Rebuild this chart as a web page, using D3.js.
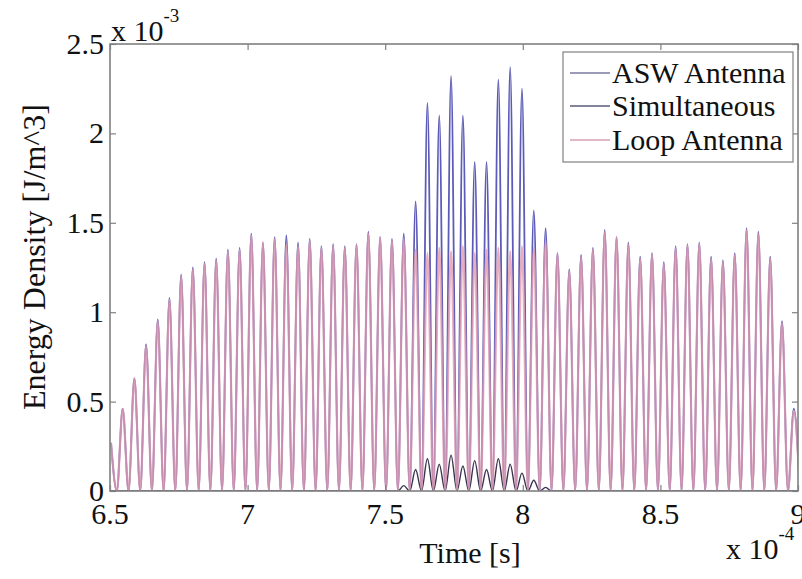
<!DOCTYPE html>
<html>
<head>
<meta charset="utf-8">
<script src="https://cdn.jsdelivr.net/npm/d3@7"></script>
<style>
  html, body { margin: 0; padding: 0; background: #fff; }
  svg { display: block; }
</style>
</head>
<body>
<svg id="chart" width="802" height="579" font-family="'Liberation Serif', 'DejaVu Serif', serif"></svg>
<script>
// ---- Data (time in units of 1e-4 s, energy density in units of 1e-3 J/m^3) ----
const peakTimes = [
  6.5036, 6.5461, 6.5886, 6.6311, 6.6735, 6.7160, 6.7585, 6.8010, 6.8435, 6.8859,
  6.9284, 6.9709, 7.0134, 7.0558, 7.0983, 7.1408, 7.1833, 7.2258, 7.2682, 7.3107,
  7.3532, 7.3957, 7.4387, 7.4816, 7.5246, 7.5675, 7.6105, 7.6534, 7.6964, 7.7393,
  7.7823, 7.8252, 7.8682, 7.9111, 7.9541, 7.9970, 8.0400, 8.0829, 8.1259, 8.1688,
  8.2118, 8.2547, 8.2977, 8.3406, 8.3836, 8.4265, 8.4695, 8.5124, 8.5554, 8.5983,
  8.6413, 8.6842, 8.7272, 8.7701, 8.8131, 8.8560, 8.8990, 8.9419, 8.9849
];
const loopAntenna = [
  0.27, 0.46, 0.63, 0.81, 0.95, 1.07, 1.20, 1.24, 1.27, 1.29,
  1.34, 1.35, 1.43, 1.39, 1.41, 1.38, 1.37, 1.40, 1.36, 1.37,
  1.36, 1.38, 1.44, 1.42, 1.40, 1.41, 1.35, 1.33, 1.36, 1.34,
  1.37, 1.33, 1.35, 1.36, 1.34, 1.37, 1.36, 1.40, 1.325, 1.23,
  1.31, 1.35, 1.45, 1.42, 1.38, 1.30, 1.325, 1.27, 1.36, 1.375,
  1.385, 1.30, 1.28, 1.32, 1.46, 1.44, 1.30, 0.94, 0.45
];
const aswAntenna = [
  0.27, 0.46, 0.63, 0.82, 0.96, 1.08, 1.21, 1.25, 1.28, 1.30,
  1.35, 1.36, 1.44, 1.39, 1.42, 1.43, 1.39, 1.41, 1.37, 1.38,
  1.37, 1.38, 1.45, 1.42, 1.41, 1.44, 1.62, 2.17, 2.10, 2.32,
  2.10, 1.84, 1.84, 2.30, 2.37, 2.25, 1.57, 1.47, 1.33, 1.24,
  1.32, 1.36, 1.46, 1.42, 1.39, 1.31, 1.33, 1.28, 1.37, 1.38,
  1.39, 1.31, 1.29, 1.33, 1.47, 1.45, 1.31, 0.95, 0.46
];
const simultaneous = [
  0, 0, 0, 0, 0, 0, 0, 0, 0, 0,
  0, 0, 0, 0, 0, 0, 0, 0, 0, 0,
  0, 0, 0, 0, 0, 0.03, 0.12, 0.18, 0.15, 0.20,
  0.14, 0.17, 0.12, 0.18, 0.15, 0.10, 0.06, 0.02, 0, 0,
  0, 0, 0, 0, 0, 0, 0, 0, 0, 0,
  0, 0, 0, 0, 0, 0, 0, 0, 0
];
const xTicks = [6.5, 7, 7.5, 8, 8.5, 9];
const xTickLabels = ["6.5", "7", "7.5", "8", "8.5", "9"];
const yTicks = [0, 0.5, 1, 1.5, 2, 2.5];
const yTickLabels = ["0", "0.5", "1", "1.5", "2", "2.5"];
const seriesNames = ["ASW Antenna", "Simultaneous", "Loop Antenna"];
const seriesColors = ["#5c5cb8", "#3a3450", "#e09aae"];
const legendColors = ["#7a7aa0", "#5a5a78", "#d8a0b0"];

// ---- Layout ----
const svg = d3.select("#chart");
const X0 = 110, X1 = 798, Y0 = 44, Y1 = 491;
const x = d3.scaleLinear().domain([6.5, 9]).range([X0, X1]);
const y = d3.scaleLinear().domain([0, 2.5]).range([Y1, Y0]);

// waveform points: a peak at each peak time, a zero trough midway between peaks
function wave(amps) {
  const pts = [];
  for (let i = 0; i < peakTimes.length; i++) {
    pts.push([peakTimes[i], amps[i]]);
    const next = i < peakTimes.length - 1 ? peakTimes[i + 1] : peakTimes[i] + (peakTimes[i] - peakTimes[i - 1]);
    pts.push([(peakTimes[i] + next) / 2, 0]);
  }
  return pts;
}

svg.append("defs").append("clipPath").attr("id", "clip")
  .append("rect").attr("x", X0).attr("y", Y0).attr("width", X1 - X0).attr("height", Y1 - Y0);

const line = d3.line().x(d => x(d[0])).y(d => y(d[1])).curve(d3.curveMonotoneX);
const plot = svg.append("g").attr("clip-path", "url(#clip)");

const allSeries = [aswAntenna, simultaneous, loopAntenna];
const widths = [1.8, 1.4, 2.2];
const opac = [1, 1, 0.8];
allSeries.forEach((s, i) => {
  plot.append("path").datum(wave(s))
    .attr("fill", "none")
    .attr("stroke", seriesColors[i])
    .attr("stroke-width", widths[i])
    .attr("stroke-opacity", opac[i])
    .attr("d", line);
});

// ---- Axes box and ticks ----
const axisColor = "#808080";
const tickLen = 6;
const axG = svg.append("g");
axG.append("rect").attr("x", X0).attr("y", Y0).attr("width", X1 - X0).attr("height", Y1 - Y0)
  .attr("fill", "none").attr("stroke", axisColor).attr("stroke-width", 1.6);

const xAxisB = d3.axisBottom(x).tickValues(xTicks).tickSize(-tickLen).tickFormat("");
const xAxisT = d3.axisTop(x).tickValues(xTicks).tickSize(-tickLen).tickFormat("");
const yAxisL = d3.axisLeft(y).tickValues(yTicks).tickSize(-tickLen).tickFormat("");
const yAxisR = d3.axisRight(y).tickValues(yTicks).tickSize(-tickLen).tickFormat("");
[[xAxisB, `translate(0,${Y1})`], [xAxisT, `translate(0,${Y0})`],
 [yAxisL, `translate(${X0},0)`], [yAxisR, `translate(${X1},0)`]].forEach(([ax, tr]) => {
  const g = axG.append("g").attr("transform", tr).call(ax);
  g.select(".domain").remove();
  g.selectAll("line").attr("stroke", axisColor).attr("stroke-width", 1.2);
});

// tick labels
const fs = 30;
const txtColor = "#111";
svg.append("g").selectAll("text").data(xTicks).join("text")
  .attr("x", d => x(d)).attr("y", 524).attr("fill", txtColor)
  .attr("text-anchor", "middle").attr("font-size", fs)
  .text((d, i) => xTickLabels[i]);
svg.append("g").selectAll("text").data(yTicks).join("text")
  .attr("x", 104).attr("y", d => y(d) + 10).attr("fill", txtColor)
  .attr("text-anchor", "end").attr("font-size", fs)
  .text((d, i) => yTickLabels[i]);

// exponent labels
const e3 = svg.append("text").attr("x", 111).attr("y", 41).attr("font-size", fs).attr("fill", txtColor);
e3.append("tspan").text("x 10");
e3.append("tspan").attr("dy", -19).attr("font-size", 19).text("-3");
const e4 = svg.append("text").attr("x", 726).attr("y", 559).attr("font-size", fs).attr("fill", txtColor);
e4.append("tspan").text("x 10");
e4.append("tspan").attr("dy", -19).attr("font-size", 19).text("-4");

// axis titles
svg.append("text").attr("x", 470).attr("y", 563).attr("text-anchor", "middle").attr("fill", txtColor)
  .attr("font-size", fs).text("Time [s]");
svg.append("text").attr("transform", "translate(45,257) rotate(-90)").attr("fill", txtColor)
  .attr("text-anchor", "middle").attr("font-size", 32).text("Energy Density [J/m^3]");

// ---- Legend ----
const lg = svg.append("g");
lg.append("rect").attr("x", 563).attr("y", 52).attr("width", 230).attr("height", 110)
  .attr("fill", "#fff").attr("stroke", axisColor).attr("stroke-width", 1.2);
const legendY = [73, 106, 140];
seriesNames.forEach((n, i) => {
  lg.append("line").attr("x1", 570).attr("x2", 610).attr("y1", legendY[i]).attr("y2", legendY[i])
    .attr("stroke", legendColors[i]).attr("stroke-width", 1.5);
  lg.append("text").attr("x", 612).attr("y", legendY[i] + 10).attr("font-size", fs)
    .attr("fill", txtColor).text(n);
});
</script>
</body>
</html>
